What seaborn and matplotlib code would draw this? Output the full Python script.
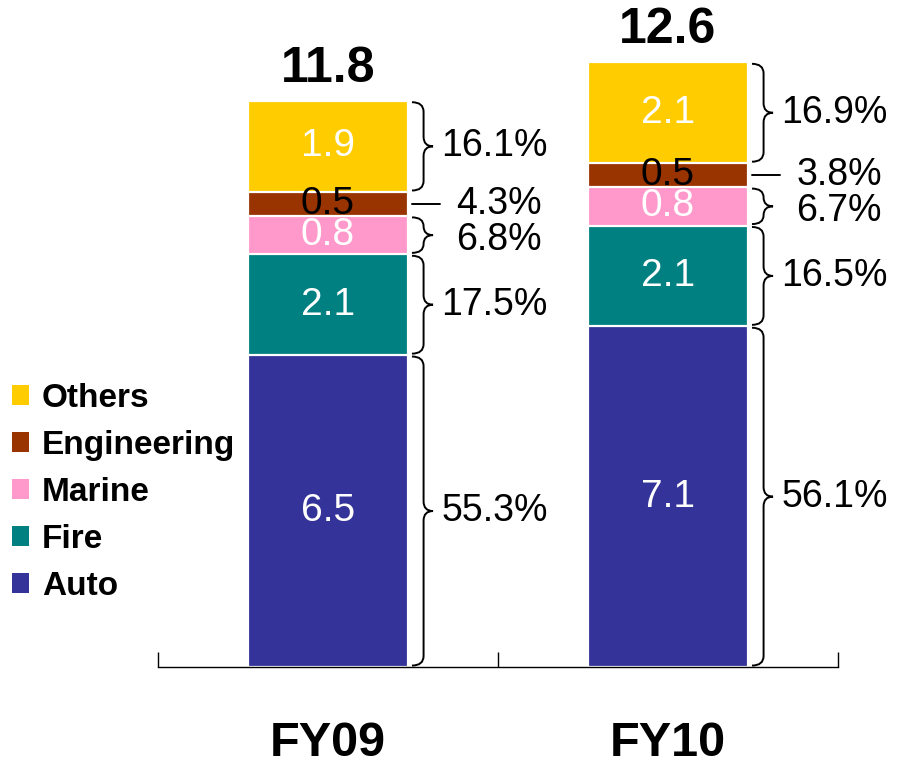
import matplotlib
matplotlib.use("Agg")
import matplotlib.pyplot as plt
from matplotlib.path import Path
from matplotlib.patches import PathPatch, Patch
import seaborn as sns
import numpy as np

# Premium by line of business (bn), bottom to top
categories = ["FY09", "FY10"]
segments = ["Auto", "Fire", "Marine", "Engineering", "Others"]
auto = [6.5, 7.1]
fire = [2.1, 2.1]
marine = [0.8, 0.8]
engineering = [0.5, 0.5]
others = [1.9, 2.1]
totals = [11.8, 12.6]
share_fy09 = ["55.3%", "17.5%", "6.8%", "4.3%", "16.1%"]
share_fy10 = ["56.1%", "16.5%", "6.7%", "3.8%", "16.9%"]

colors = {
    "Auto": "#333399",
    "Fire": "#008080",
    "Marine": "#FF99CC",
    "Engineering": "#993300",
    "Others": "#FFCC00",
}
value_color = {"Auto": "white", "Fire": "white", "Marine": "white",
               "Engineering": "black", "Others": "white"}

sns.set_theme(style="white")
plt.rcParams["font.family"] = ["Liberation Sans", "DejaVu Sans"]
plt.rcParams["text.color"] = "black"
plt.rcParams["xtick.color"] = "black"
plt.rcParams["xtick.labelcolor"] = "black"

fig = plt.figure(figsize=(9, 7.64), dpi=100)
ax = fig.add_axes([158 / 900, 97 / 764, 680 / 900, 667 / 764])

series = np.array([auto, fire, marine, engineering, others])
cum = np.cumsum(series, axis=0)
bar_w = 0.47

# stacked bars: draw cumulative heights from the top layer down
for i in range(len(segments) - 1, -1, -1):
    sns.barplot(x=categories, y=cum[i], color=colors[segments[i]],
                width=bar_w, saturation=1, edgecolor="white",
                linewidth=1.6, ax=ax)

ax.set_xlim(-0.5, 1.5)
ax.set_ylim(0, 13.9)


def brace(ax, x0, y0, y1, w, r=0.2):
    """Right-pointing curly brace spanning y0..y1, starting at x0."""
    ym = (y0 + y1) / 2
    r = min(r, (y1 - y0) / 4)
    xm = x0 + w * 0.55
    verts = [
        (x0, y1), (xm, y1), (xm, y1 - r),
        (xm, ym + r),
        (xm, ym), (x0 + w, ym),
        (xm, ym), (xm, ym - r),
        (xm, y0 + r),
        (xm, y0), (x0, y0),
    ]
    codes = [Path.MOVETO, Path.CURVE3, Path.CURVE3,
             Path.LINETO,
             Path.CURVE3, Path.CURVE3,
             Path.CURVE3, Path.CURVE3,
             Path.LINETO,
             Path.CURVE3, Path.CURVE3]
    ax.add_patch(PathPatch(Path(verts, codes), facecolor="none",
                           edgecolor="black", lw=1.4, clip_on=False))


shares = [share_fy09, share_fy10]
for j, cat in enumerate(categories):
    right = j + bar_w / 2
    bx0 = right + 0.012
    bw = 0.062
    for i, seg in enumerate(segments):
        lo = cum[i][j] - series[i][j]
        hi = cum[i][j]
        mid = (lo + hi) / 2
        ax.text(j, mid, f"{series[i][j]:.1f}", ha="center", va="center",
                fontsize=28, color=value_color[seg])
        if seg == "Engineering":
            ax.plot([bx0, bx0 + 0.082], [mid, mid], color="black", lw=1.4,
                    clip_on=False)
            tx = bx0 + bw + 0.068
            ty = mid
        elif seg == "Marine":
            brace(ax, bx0, lo + 0.03, hi - 0.03, bw)
            tx = bx0 + bw + 0.068
            ty = mid - 0.1
        else:
            brace(ax, bx0, lo + 0.03, hi - 0.03, bw)
            tx = bx0 + bw + 0.024
            ty = mid
        ax.text(tx, ty, shares[j][i], ha="left", va="center", fontsize=27,
                color="black")
    ax.text(j, totals[j] + 0.19, f"{totals[j]:.1f}", ha="center",
            va="bottom", fontsize=36, fontweight="bold", color="black")

# axis styling: only a baseline with upward separator ticks
for s in ["left", "top", "right"]:
    ax.spines[s].set_visible(False)
ax.spines["bottom"].set_color("black")
ax.spines["bottom"].set_linewidth(1.0)
ax.set_yticks([])
ax.set_xticks([0, 1])
ax.set_xticklabels(categories, fontsize=35, fontweight="bold")
ax.tick_params(axis="x", which="major", length=0, pad=39)
ax.set_xticks([-0.5, 0.5, 1.5], minor=True)
ax.tick_params(axis="x", which="minor", direction="in", length=11,
               width=1.0, color="black", bottom=True)
ax.set_xlabel("")
ax.set_ylabel("")

handles = [Patch(facecolor=colors[s], edgecolor="none") for s in segments[::-1]]
leg = fig.legend(handles, segments[::-1], loc="upper left",
                 bbox_to_anchor=(12 / 900, 1 - 383 / 764), frameon=False,
                 borderpad=0, borderaxespad=0, handlelength=0.52,
                 handleheight=0.52, handletextpad=0.38, labelspacing=0.48,
                 prop={"size": 24, "weight": "bold"})
for t in leg.get_texts():
    t.set_color("black")

fig.savefig("out.png", dpi=100, facecolor="white")
